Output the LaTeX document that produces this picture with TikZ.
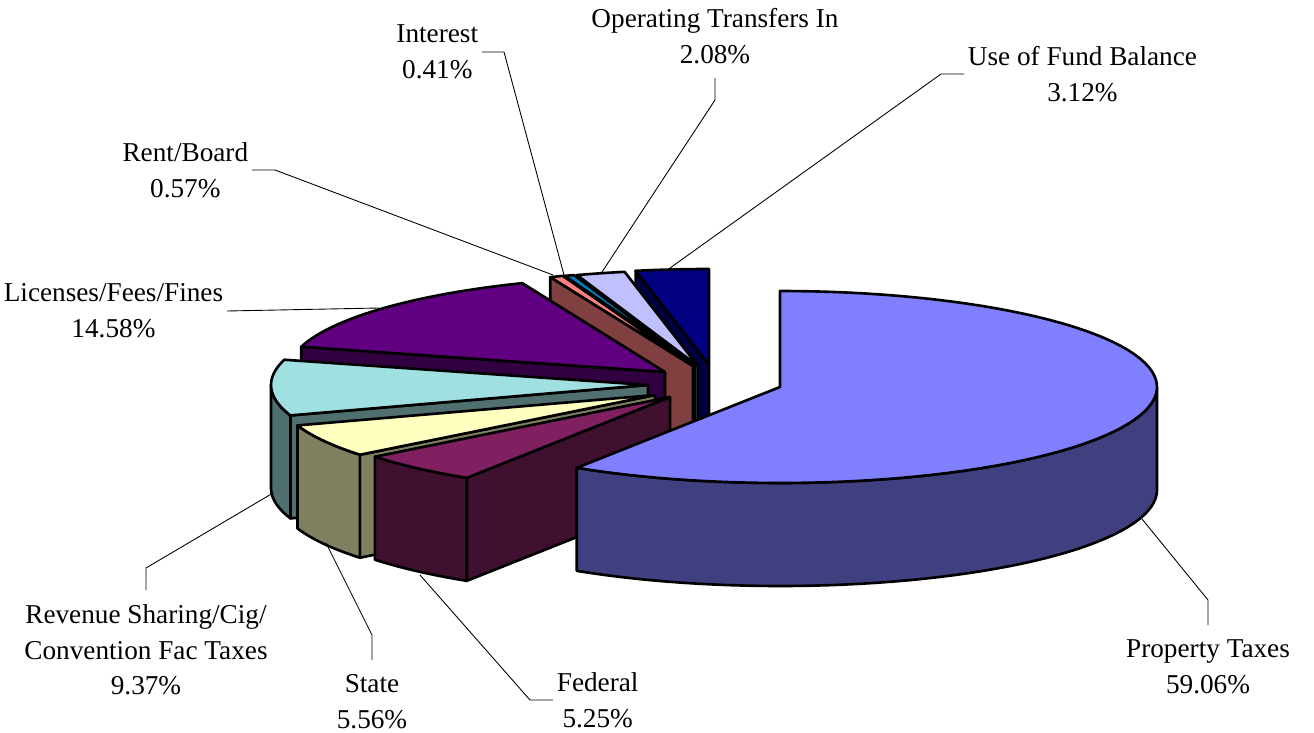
\documentclass[tikz,border=0pt]{standalone}
\usepackage{fontspec}
\setmainfont{Liberation Serif}

\definecolor{proptop}{HTML}{8080FF}
\definecolor{propside}{HTML}{404080}
\definecolor{fedtop}{HTML}{802060}
\definecolor{fedside}{HTML}{401030}
\definecolor{statetop}{HTML}{FFFFC0}
\definecolor{stateside}{HTML}{808060}
\definecolor{revtop}{HTML}{A0E0E0}
\definecolor{revside}{HTML}{507070}
\definecolor{lictop}{HTML}{600080}
\definecolor{licside}{HTML}{300040}
\definecolor{renttop}{HTML}{FF8080}
\definecolor{rentside}{HTML}{804040}
\definecolor{inttop}{HTML}{0080C0}
\definecolor{intside}{HTML}{004060}
\definecolor{optop}{HTML}{C0C0FF}
\definecolor{opside}{HTML}{606080}
\definecolor{fundtop}{HTML}{000080}
\definecolor{fundside}{HTML}{000040}

\begin{document}
\begin{tikzpicture}[x=0.02cm, y=-0.02cm, font=\fontsize{15.5}{20.4}\selectfont,
  face/.style={draw=black, line width=1.5pt, line join=round},
  leader/.style={draw=black, line width=0.5pt},
  lbl/.style={align=center, inner xsep=2pt, inner ysep=8pt}
  ]
\useasboundingbox (0,0) rectangle (1314,733);

% Use of Fund Balance (back)
\path[face, fill=fundside] (709,365) -- ({709+377*sin(348.77)},{365-96*cos(348.77)}) -- ++(0,103) -- (709,468) -- cycle;
\path[face, fill=fundtop] (709,365) -- plot[domain=348.77:360, samples=10] ({709+377*sin(\x)},{365-96*cos(\x)}) -- cycle;

% Operating Transfers In
\path[face, fill=opside] (698,366) -- ({698+377*sin(341.28)},{366-96*cos(341.28)}) -- ++(0,103) -- (698,469) -- cycle;
\path[face, fill=optop] (698,366) -- plot[domain=341.28:348.77, samples=8] ({698+377*sin(\x)},{366-96*cos(\x)}) -- cycle;

% Interest
\path[face, fill=intside] (695,366) -- ({695+377*sin(339.8)},{366-96*cos(339.8)}) -- ++(0,103) -- (695,469) -- cycle;
\path[face, fill=inttop] (695,366) -- plot[domain=339.8:341.28, samples=3] ({695+377*sin(\x)},{366-96*cos(\x)}) -- cycle;

% Rent/Board
\path[face, fill=rentside] (693,366) -- ({693+377*sin(337.75)},{366-96*cos(337.75)}) -- ++(0,103) -- (693,469) -- cycle;
\path[face, fill=renttop] (693,366) -- plot[domain=337.75:339.8, samples=3] ({693+377*sin(\x)},{366-96*cos(\x)}) -- cycle;

% Licenses/Fees/Fines
\path[face, fill=licside] (665,372) -- ({665+377*sin(285.26)},{372-96*cos(285.26)}) -- ++(0,103) -- (665,475) -- cycle;
\path[face, fill=lictop] (665,372) -- plot[domain=285.26:337.75, samples=30] ({665+377*sin(\x)},{372-96*cos(\x)}) -- cycle;

% Revenue Sharing
\path[face, fill=revside] (648,385) -- ({648+377*sin(251.53)},{385-96*cos(251.53)}) -- ++(0,103) -- (648,488) -- cycle;
\path[face, fill=revside] plot[domain=251.53:270, samples=12] ({648+377*sin(\x)},{385-96*cos(\x)}) -- plot[domain=270:251.53, samples=12] ({648+377*sin(\x)},{488-96*cos(\x)}) -- cycle;
\path[face, fill=revtop] (648,385) -- plot[domain=251.53:285.26, samples=20] ({648+377*sin(\x)},{385-96*cos(\x)}) -- cycle;

% State
\path[face, fill=stateside] (655,395) -- ({655+377*sin(231.52)},{395-96*cos(231.52)}) -- ++(0,103) -- (655,498) -- cycle;
\path[face, fill=stateside] plot[domain=231.52:251.53, samples=12] ({655+377*sin(\x)},{395-96*cos(\x)}) -- plot[domain=251.53:231.52, samples=12] ({655+377*sin(\x)},{498-96*cos(\x)}) -- cycle;
\path[face, fill=statetop] (655,395) -- plot[domain=231.52:251.53, samples=12] ({655+377*sin(\x)},{395-96*cos(\x)}) -- cycle;

% Federal
\path[face, fill=fedside] (670,397) -- ({670+377*sin(212.62)},{397-96*cos(212.62)}) -- ++(0,103) -- (670,500) -- cycle;
\path[face, fill=fedside] plot[domain=212.62:231.52, samples=12] ({670+377*sin(\x)},{397-96*cos(\x)}) -- plot[domain=231.52:212.62, samples=12] ({670+377*sin(\x)},{500-96*cos(\x)}) -- cycle;
\path[face, fill=fedtop] (670,397) -- plot[domain=212.62:231.52, samples=12] ({670+377*sin(\x)},{397-96*cos(\x)}) -- cycle;

% Property Taxes (front)
\path[face, fill=propside] plot[domain=90:212.62, samples=50] ({780+377*sin(\x)},{387-96*cos(\x)}) -- plot[domain=212.62:90, samples=50] ({780+377*sin(\x)},{490-96*cos(\x)}) -- cycle;
\path[face, fill=proptop] (780,387) -- plot[domain=0:212.62, samples=80] ({780+377*sin(\x)},{387-96*cos(\x)}) -- cycle;

% leader ends
\coordinate (proptip) at (1142,519);
\coordinate (fedtip) at (420,575);
\coordinate (statetip) at (326,543);
\coordinate (revtip) at (273,493);
\coordinate (lictip) at (379,308);
\coordinate (renttip) at (553,275);
\coordinate (inttip) at (564,275);
\coordinate (optip) at (602,272);
\coordinate (fundtip) at (670,268);

% Labels
\node[lbl, anchor=north] (proplbl) at (1208,625) {Property Taxes\\59.06\%};
\node[lbl, anchor=west] (fedlbl) at (553,700) {Federal\\5.25\%};
\node[lbl, anchor=north] (statelbl) at (372,660) {State\\5.56\%};
\node[lbl, anchor=north] (revlbl) at (146,590) {Revenue Sharing/Cig/\\Convention Fac Taxes\\9.37\%};
\node[lbl, anchor=east] (liclbl) at (227,311) {Licenses/Fees/Fines\\14.58\%};
\node[lbl, anchor=east] (rentlbl) at (252,170) {Rent/Board\\0.57\%};
\node[lbl, anchor=east] (intlbl) at (482,52) {Interest\\0.41\%};
\node[lbl, anchor=south] (oplbl) at (715,78) {Operating Transfers In\\2.08\%};
\node[lbl, anchor=west] (fundlbl) at (964,74) {Use of Fund Balance\\3.12\%};

\draw[leader] (proplbl.north) -- ++(0,-25) -- (proptip);
\draw[leader] (fedlbl.west) -- ++(-23,0) -- (fedtip);
\draw[leader] (statelbl.north) -- ++(0,-25) -- (statetip);
\draw[leader] (revlbl.north) -- ++(0,-22) -- (revtip);
\draw[leader] (liclbl.east) -- (lictip);
\draw[leader] (rentlbl.east) -- ++(23,0) -- (renttip);
\draw[leader] (intlbl.east) -- ++(22,0) -- (inttip);
\draw[leader] (oplbl.south) -- ++(0,22) -- (optip);
\draw[leader] (fundlbl.west) -- ++(-23,0) -- (fundtip);

\end{tikzpicture}
\end{document}
